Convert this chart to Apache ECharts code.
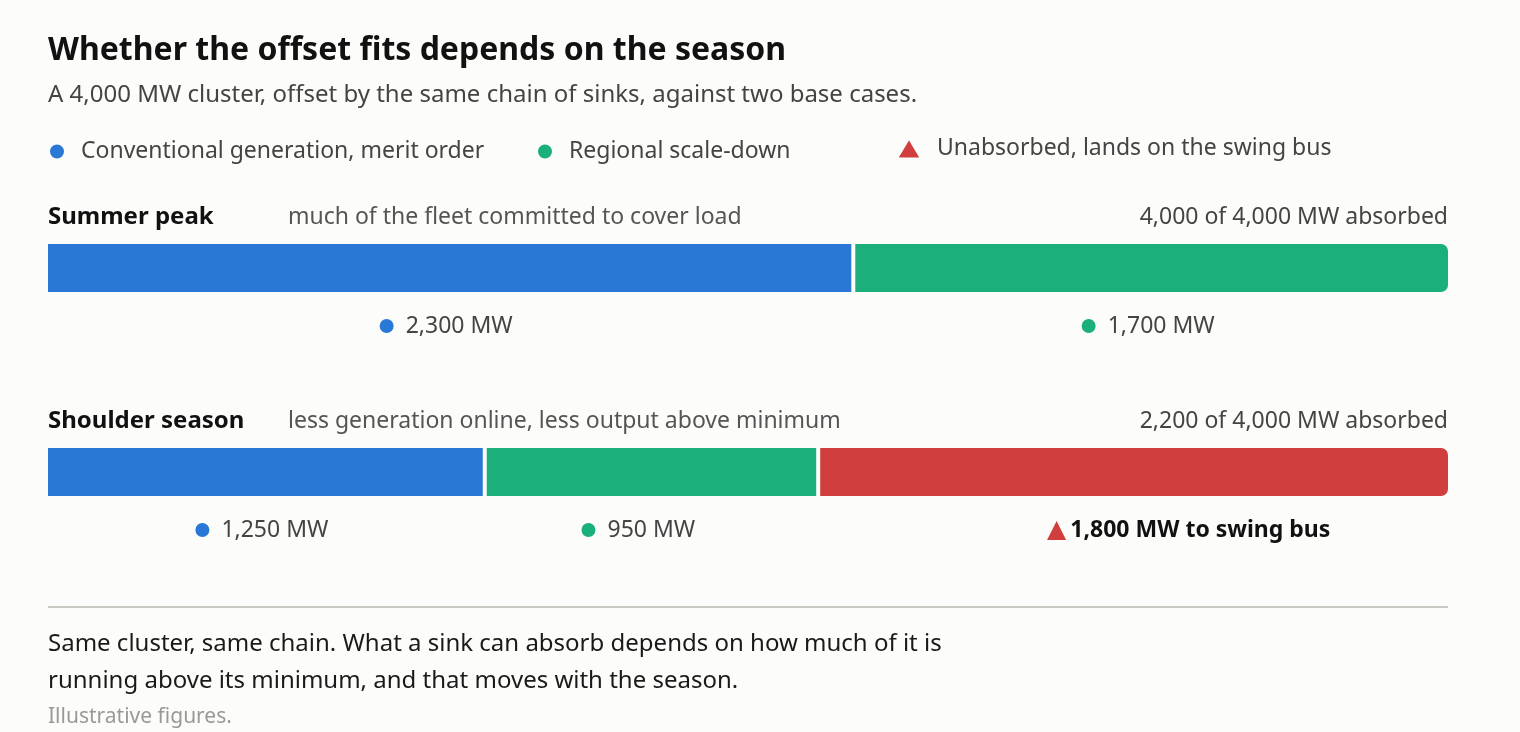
<!DOCTYPE html>
<html>
<head>
<meta charset="utf-8">
<script src="https://cdn.jsdelivr.net/npm/echarts@6/dist/echarts.min.js"></script>
<style>
html,body{margin:0;padding:0;background:#fcfcfa;}
#chart{width:1520px;height:732px;}
</style>
</head>
<body>
<div id="chart"></div>
<script>
const seriesNames = ['Conventional generation, merit order', 'Regional scale-down', 'Unabsorbed, lands on the swing bus'];
const seasons = ['Summer peak', 'Shoulder season'];
const seasonNotes = ['much of the fleet committed to cover load', 'less generation online, less output above minimum'];
const conventional = [2300, 1250];
const regional = [1700, 950];
const unabsorbed = [0, 1800];
const clusterSize = 4000;

const FONT = '"Noto Sans", "Open Sans", sans-serif';
const BG = '#fcfcfa';
const COLORS = ['#2a78d6', '#1bb07b', '#d13e3e'];
const fmt = v => v.toLocaleString('en-US');

const chart = echarts.init(document.getElementById('chart'));

const allSeries = [conventional, regional, unabsorbed];
const lastIdx = seasons.map((_, r) => {
  let li = 0;
  allSeries.forEach((arr, s) => { if (arr[r] > 0) li = s; });
  return li;
});

function buildData(arr, s) {
  return arr.map((v, r) => ({
    value: v,
    itemStyle: { borderRadius: lastIdx[r] === s ? [0, 8, 8, 0] : 0 }
  }));
}

const labelRich = {
  dot0: { width: 14, height: 14, borderRadius: 7, backgroundColor: COLORS[0] },
  dot1: { width: 14, height: 14, borderRadius: 7, backgroundColor: COLORS[1] },
  t: { fontFamily: FONT, fontSize: 23, lineHeight: 26, color: '#444', padding: [0, 0, 0, 12] },
  tri: { fontFamily: '"DejaVu Sans", sans-serif', fontSize: 25, lineHeight: 26, color: COLORS[2] },
  b: { fontFamily: FONT, fontSize: 23, lineHeight: 26, color: '#111', fontWeight: 'bold', padding: [0, 0, 0, 4] }
};

const series = allSeries.map((arr, s) => ({
  name: seriesNames[s],
  type: 'bar',
  stack: 'total',
  barWidth: 52,
  data: buildData(arr, s),
  itemStyle: { color: COLORS[s], borderColor: BG, borderWidth: 2 },
  label: {
    show: true,
    position: 'bottom',
    distance: 19,
    align: 'left',
    offset: [s === 2 ? -87 : -70, 0],
    rich: labelRich,
    formatter: p => {
      if (!p.value) return '';
      if (s === 2) return '{tri|▲}{b|' + fmt(p.value) + ' MW to swing bus}';
      return '{dot' + s + '|}{t|' + fmt(p.value) + ' MW}';
    }
  }
}));

const rowTops = [205, 409];
const titles = [
  { text: 'Whether the offset fits depends on the season', left: 48, top: 35,
    textStyle: { fontFamily: FONT, fontSize: 32, fontWeight: 'bold', color: '#111' } },
  { text: 'A 4,000 MW cluster, offset by the same chain of sinks, against two base cases.', left: 48, top: 83,
    textStyle: { fontFamily: FONT, fontSize: 24, fontWeight: 'normal', color: '#444' } },
  { text: 'Same cluster, same chain. What a sink can absorb depends on how much of it is', left: 48, top: 632,
    textStyle: { fontFamily: FONT, fontSize: 24, fontWeight: 'normal', color: '#1a1a1a' } },
  { text: 'running above its minimum, and that moves with the season.', left: 48, top: 669,
    textStyle: { fontFamily: FONT, fontSize: 24, fontWeight: 'normal', color: '#1a1a1a' } },
  { text: 'Illustrative figures.', left: 48, top: 707,
    textStyle: { fontFamily: FONT, fontSize: 21, fontWeight: 'normal', color: '#999' } }
];
seasons.forEach((name, r) => {
  const absorbed = conventional[r] + regional[r];
  titles.push({ text: name, left: 48, top: rowTops[r],
    textStyle: { fontFamily: FONT, fontSize: 24, fontWeight: 'bold', color: '#111' } });
  titles.push({ text: seasonNotes[r], left: 288, top: rowTops[r] + 1,
    textStyle: { fontFamily: FONT, fontSize: 23, fontWeight: 'normal', color: '#555' } });
  titles.push({ text: fmt(absorbed) + ' of ' + fmt(clusterSize) + ' MW absorbed', right: 72, top: rowTops[r] + 1,
    textStyle: { fontFamily: FONT, fontSize: 23, fontWeight: 'normal', color: '#444' } });
});
titles.forEach(t => { t.padding = 0; });

const legendLefts = [48, 536, 896];
const legendIcons = ['circle', 'circle', 'triangle'];
const legends = seriesNames.map((n, i) => ({
  data: [{ name: n, icon: legendIcons[i] }],
  left: legendLefts[i],
  top: i === 2 ? 137 : 140,
  padding: 0,
  itemWidth: i === 2 ? 24 : 16,
  itemHeight: i === 2 ? 20 : 16,
  selectedMode: false,
  textStyle: { fontFamily: FONT, fontSize: 23, color: '#444', padding: [0, 0, 0, 11] }
}));

chart.setOption({
  backgroundColor: BG,
  animation: false,
  title: titles,
  legend: legends,
  grid: { left: 46, right: 70, top: 166, height: 408, containLabel: false },
  xAxis: { type: 'value', min: 0, max: clusterSize, show: false },
  yAxis: { type: 'category', data: seasons, inverse: true, show: false },
  series: series,
  graphic: [
    { type: 'line', shape: { x1: 48, y1: 607, x2: 1448, y2: 607 },
      style: { stroke: '#c8c8c0', lineWidth: 2 } }
  ]
});
</script>
</body>
</html>
